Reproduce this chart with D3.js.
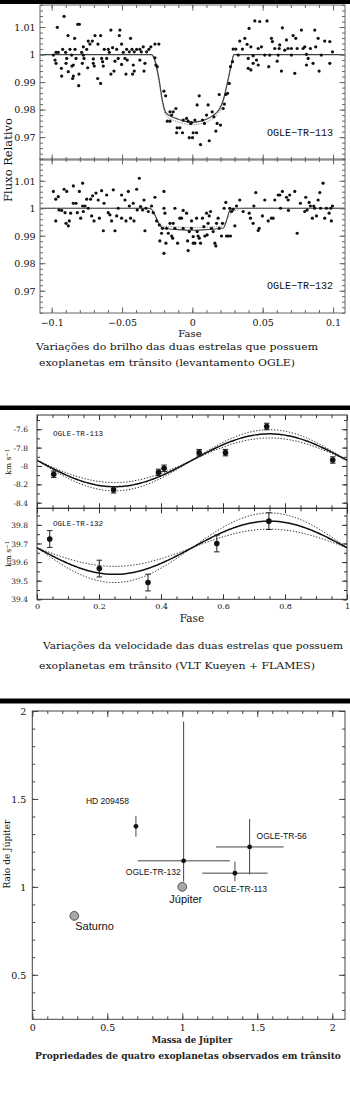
<!DOCTYPE html>
<html>
<head>
<meta charset="utf-8">
<script src="https://cdn.jsdelivr.net/npm/d3@7"></script>
<style>
  body { margin: 0; background: #fff; }
  svg { display: block; }
</style>
</head>
<body>
<svg id="chart" width="350" height="1095"></svg>
<script>
// ---------------- Light curves (phase, relative flux) ----------------
const lcPhaseTicks = [-0.1, -0.05, 0, 0.05, 0.1];
const lcPhaseLabels = ["\u22120.1", "\u22120.05", "0", "0.05", "0.1"];
const lcFluxTicks = [0.97, 0.98, 0.99, 1, 1.01];
const lcFluxLabels = ["0.97", "0.98", "0.99", "1", "1.01"];

const lc113 = [
  [-0.0912,1.0139],[-0.0960,1.0099],[-0.0884,1.0069],[-0.0815,1.0110],[-0.0803,1.0110],[-0.0837,1.0059],
  [-0.0579,1.0089],[-0.0515,1.0089],[-0.0692,1.0069],[-0.0652,1.0069],[-0.0519,1.0069],[-0.0439,1.0059],
  [-0.0740,1.0049],[-0.0711,1.0049],[-0.0728,1.0038],[-0.0671,1.0038],[-0.0503,1.0038],[-0.0266,1.0038],
  [-0.0238,1.0038],[-0.0775,1.0028],[-0.0349,1.0028],[-0.0295,1.0028],[-0.0922,1.0019],[-0.0870,1.0019],
  [-0.0834,1.0019],[-0.0751,1.0019],[-0.0626,1.0019],[-0.0598,1.0019],[-0.0567,1.0025],[-0.0538,1.0019],
  [-0.0467,1.0019],[-0.0429,1.0019],[-0.0396,1.0019],[-0.0373,1.0019],[-0.0309,1.0019],[-0.0969,1.0008],
  [-0.0953,1.0008],[-0.0901,1.0008],[-0.0787,1.0008],[-0.0590,1.0008],[-0.0491,1.0008],[-0.0448,1.0010],
  [-0.0413,1.0010],[-0.0363,1.0010],[-0.0325,1.0010],[-0.0988,0.9998],[-0.0858,0.9998],[-0.0775,0.9998],
  [-0.0976,0.9980],[-0.0893,0.9986],[-0.0827,0.9986],[-0.0770,0.9986],[-0.0704,0.9984],[-0.0645,0.9986],
  [-0.0609,0.9986],[-0.0527,0.9986],[-0.0479,0.9986],[-0.0463,0.9980],[-0.0266,0.9988],[-0.0969,0.9968],
  [-0.0898,0.9968],[-0.0846,0.9962],[-0.0782,0.9968],[-0.0704,0.9968],[-0.0638,0.9974],[-0.0550,0.9976],
  [-0.0373,0.9980],[-0.0337,0.9968],[-0.0259,0.9962],[-0.0931,0.9950],[-0.0856,0.9958],[-0.0744,0.9952],
  [-0.0697,0.9958],[-0.0633,0.9958],[-0.0503,0.9964],[-0.0420,0.9962],[-0.0250,0.9956],[-0.0882,0.9938],
  [-0.0557,0.9940],[-0.0413,0.9940],[-0.0344,0.9940],[-0.0929,0.9922],[-0.0846,0.9922],[-0.0806,0.9929],
  [-0.0579,0.9929],[-0.0472,0.9929],[-0.0425,0.9929],[-0.0851,0.9913],[-0.0673,0.9913],[-0.0652,0.9895],
  [-0.0808,0.9887],
  [-0.0202,0.9867],[-0.0190,0.9850],[-0.0159,0.9792],[-0.0136,0.9792],[-0.0117,0.9804],[-0.0178,0.9758],
  [-0.0159,0.9758],[-0.0147,0.9780],[-0.0108,0.9734],[-0.0089,0.9734],[-0.0112,0.9716],[-0.0070,0.9716],
  [-0.0065,0.9762],[-0.0041,0.9768],[-0.0030,0.9758],[-0.0011,0.9750],[-0.0022,0.9698],[0.0001,0.9698],
  [-0.0006,0.9753],[0.0018,0.9762],[0.0006,0.9716],[0.0030,0.9716],[0.0058,0.9673],[0.0049,0.9850],
  [0.0072,0.9762],[0.0086,0.9750],[0.0034,0.9817],[0.0112,0.9817],[0.0101,0.9780],[0.0120,0.9687],
  [0.0141,0.9792],[0.0153,0.9774],[0.0167,0.9722],[0.0176,0.9750],[0.0200,0.9744],[0.0191,0.9855],
  [0.0219,0.9804],[0.0228,0.9820],[0.0238,0.9855],[0.0250,0.9859],[0.0262,0.9895],[0.0271,0.9956],
  [0.0285,0.9974],
  [0.0290,1.0020],[0.0309,1.0020],[0.0326,0.9998],[0.0337,1.0049],[0.0356,1.0020],[0.0373,1.0059],
  [0.0389,1.0037],[0.0403,1.0095],[0.0416,1.0028],[0.0397,0.9950],[0.0416,0.9944],[0.0444,1.0122],
  [0.0479,1.0120],[0.0531,1.0122],[0.0468,1.0022],[0.0491,1.0028],[0.0397,0.9986],[0.0432,0.9968],
  [0.0456,0.9980],[0.0468,0.9962],[0.0515,0.9998],[0.0550,0.9998],[0.0543,0.9956],[0.0562,1.0059],
  [0.0569,1.0047],[0.0586,1.0022],[0.0617,1.0022],[0.0603,0.9976],[0.0621,1.0035],[0.0640,1.0097],
  [0.0633,0.9940],[0.0657,1.0016],[0.0669,1.0053],[0.0680,1.0022],[0.0704,1.0022],[0.0716,1.0069],
  [0.0735,1.0059],[0.0745,1.0022],[0.0728,0.9932],[0.0775,1.0089],[0.0787,1.0022],[0.0799,1.0028],
  [0.0811,0.9962],[0.0823,0.9986],[0.0839,1.0022],[0.0858,0.9968],[0.0870,1.0089],[0.0877,1.0028],
  [0.0894,1.0059],[0.0901,0.9940],[0.0917,0.9998],[0.0941,1.0049],[0.0977,1.0047],[0.0977,0.9968],
  [0.0996,1.0010],[0.0704,0.9998],[0.0811,1.0001],[0.0610,0.9998],[0.0432,0.9996]
];

const lc132 = [
  [-0.0988,1.0061],[-0.0971,1.0033],[-0.0971,0.9954],[-0.0953,1.0042],[-0.0948,0.9994],[-0.0929,0.9992],
  [-0.0912,1.0069],[-0.0893,1.0061],[-0.0905,0.9984],[-0.0898,0.9945],[-0.0882,0.9936],[-0.0875,0.9954],
  [-0.0865,0.9982],[-0.0846,1.0081],[-0.0846,1.0018],[-0.0827,1.0018],[-0.0818,0.9984],[-0.0803,1.0061],
  [-0.0794,0.9964],[-0.0780,1.0091],[-0.0780,1.0008],[-0.0763,1.0008],[-0.0775,0.9988],[-0.0751,1.0033],
  [-0.0740,1.0000],[-0.0723,1.0033],[-0.0709,1.0045],[-0.0716,0.9972],[-0.0699,0.9954],[-0.0685,1.0055],
  [-0.0669,1.0030],[-0.0661,0.9964],[-0.0645,1.0064],[-0.0633,0.9918],[-0.0628,1.0018],[-0.0609,1.0048],
  [-0.0598,0.9984],[-0.0586,0.9976],[-0.0574,0.9954],[-0.0562,1.0067],[-0.0550,0.9918],[-0.0538,0.9972],
  [-0.0527,1.0000],[-0.0503,1.0048],[-0.0503,0.9964],[-0.0479,1.0030],[-0.0472,0.9954],[-0.0455,1.0061],
  [-0.0448,1.0008],[-0.0439,0.9964],[-0.0420,1.0018],[-0.0415,0.9954],[-0.0396,1.0069],[-0.0392,0.9994],
  [-0.0377,1.0109],[-0.0368,1.0006],[-0.0354,0.9994],[-0.0344,1.0030],[-0.0337,0.9918],[-0.0330,1.0000],
  [-0.0313,0.9988],[-0.0290,1.0008],[-0.0278,0.9984],[-0.0266,1.0040],[-0.0254,0.9954],[-0.0235,0.9939],
  [-0.0231,0.9881],[-0.0219,0.9909],[-0.0202,1.0061],[-0.0202,1.0000],[-0.0212,0.9927],[-0.0195,0.9982],
  [-0.0202,0.9836],[-0.0188,0.9873],[-0.0171,0.9909],[-0.0159,0.9945],[-0.0147,0.9899],[-0.0140,0.9891],
  [-0.0136,0.9945],[-0.0124,1.0000],[-0.0124,0.9927],[-0.0105,0.9873],[-0.0089,0.9964],[-0.0077,0.9964],
  [-0.0065,0.9992],[-0.0065,0.9927],[-0.0041,0.9982],[-0.0034,0.9881],[-0.0030,0.9846],[-0.0022,0.9915],
  [-0.0006,0.9927],[0.0006,0.9873],[-0.0183,0.9927],
  [-0.0006,0.9954],[0.0006,0.9897],[0.0018,0.9873],[0.0030,0.9964],[0.0034,0.9915],[0.0041,0.9899],
  [0.0049,0.9891],[0.0058,0.9873],[0.0072,0.9964],[0.0082,0.9933],[0.0089,0.9899],[0.0101,0.9982],
  [0.0105,0.9903],[0.0112,0.9945],[0.0120,0.9972],[0.0129,0.9988],[0.0136,0.9927],[0.0148,0.9915],
  [0.0160,0.9873],[0.0167,0.9863],[0.0172,0.9945],[0.0183,0.9964],[0.0191,0.9927],[0.0207,0.9899],
  [0.0214,0.9945],[0.0226,1.0000],[0.0238,1.0021],[0.0243,0.9899],[0.0255,0.9899],[0.0271,0.9899],
  [0.0266,1.0000],[0.0278,0.9988],[0.0290,0.9996],[0.0302,0.9936],[0.0314,1.0008],[0.0337,1.0030],
  [0.0361,0.9988],[0.0404,0.9982],[0.0413,0.9964],[0.0432,0.9945],[0.0437,1.0008],[0.0451,1.0057],
  [0.0468,0.9919],[0.0475,0.9927],[0.0498,0.9972],[0.0515,1.0030],[0.0539,0.9954],[0.0562,0.9964],
  [0.0574,0.9964],[0.0586,1.0030],[0.0610,1.0048],[0.0622,1.0048],[0.0627,1.0000],[0.0640,1.0061],
  [0.0669,1.0040],[0.0681,1.0030],[0.0683,0.9992],[0.0692,1.0048],[0.0728,1.0061],[0.0745,0.9909],
  [0.0768,1.0018],[0.0799,0.9988],[0.0806,1.0040],[0.0816,0.9994],[0.0830,1.0021],[0.0839,1.0008],
  [0.0853,0.9964],[0.0863,1.0008],[0.0870,1.0000],[0.0882,0.9972],[0.0894,1.0030],[0.0906,1.0057],
  [0.0911,1.0000],[0.0929,1.0091],[0.0941,0.9964],[0.0953,1.0000],[0.0972,0.9982],[0.0988,0.9954],
  [0.0996,1.0008],[0.0984,1.0000]
];

// transit model profiles (phase, flux)
const lc113Model = [[-0.108,1],[-0.029,1],[-0.027,0.9985],[-0.024,0.992],[-0.021,0.9825],[-0.019,0.979],
  [-0.015,0.9775],[-0.01,0.9765],[-0.005,0.9757],[0,0.9754],[0.005,0.9757],[0.01,0.9765],[0.015,0.978],
  [0.019,0.980],[0.022,0.9835],[0.025,0.990],[0.028,0.997],[0.0295,1],[0.108,1]];
const lc113ModelAlt = [[-0.108,1],[-0.029,1],[-0.027,0.998],[-0.024,0.991],[-0.021,0.9815],[-0.019,0.978],
  [-0.015,0.9765],[-0.01,0.9755],[-0.005,0.9748],[0,0.9745],[0.005,0.9748],[0.01,0.9755],[0.015,0.977],
  [0.019,0.979],[0.022,0.983],[0.025,0.990],[0.028,0.997],[0.0295,1],[0.108,1]];
const lc132Model = [[-0.108,1],[-0.030,1],[-0.027,0.998],[-0.024,0.9945],[-0.021,0.9928],[-0.01,0.9922],
  [0,0.992],[0.01,0.9922],[0.022,0.9928],[0.024,0.995],[0.026,0.9985],[0.028,1],[0.108,1]];
const lc132ModelAlt = [[-0.108,1],[-0.031,1],[-0.025,0.996],[-0.021,0.9935],[0,0.993],[0.021,0.9935],
  [0.026,0.997],[0.029,0.9988],[0.033,0.9995],[0.036,1],[0.108,1]];

// ---------------- Radial velocities ----------------
const rvPhaseTicks = [0, 0.2, 0.4, 0.6, 0.8, 1];
const rv113Ticks = [-8.4, -8.2, -8, -7.8, -7.6];
const rv132Ticks = [39.4, 39.5, 39.6, 39.7, 39.8];

const rv113Phase = [0.054, 0.247, 0.392, 0.41, 0.523, 0.608, 0.741, 0.954];
const rv113Vel   = [-8.09, -8.26, -8.07, -8.025, -7.855, -7.855, -7.57, -7.935];
const rv113Err   = [0.035, 0.035, 0.035, 0.035, 0.035, 0.035, 0.035, 0.035];
const rv132Phase = [0.041, 0.201, 0.358, 0.58, 0.748];
const rv132Vel   = [39.724, 39.565, 39.49, 39.70, 39.82];
const rv132Err   = [0.045, 0.045, 0.045, 0.045, 0.045];

// circular-orbit fits: systemic velocity and semi-amplitudes (fit, lower, upper)
const rv113Gamma = -7.938;
const rv113K = [0.288, 0.243, 0.333];
const rv132Gamma = 39.677;
const rv132K = [0.143, 0.10, 0.187];

// ---------------- Mass-radius ----------------
const massTicks = [0, 0.5, 1, 1.5, 2];
const radiusTicks = [0.5, 1, 1.5, 2];
const planetNames  = ["HD 209458", "OGLE-TR-56", "OGLE-TR-113", "OGLE-TR-132"];
const planetMass   = [0.691, 1.449, 1.351, 1.009];
const planetRadius = [1.344, 1.227, 1.078, 1.148];
const massMin   = [0.691, 1.225, 1.133, 0.703];
const massMax   = [0.691, 1.676, 1.569, 1.318];
const radiusMin = [1.285, 1.071, 1.032, 1.03];
const radiusMax = [1.403, 1.386, 1.143, 1.94];
const solarNames  = ["Júpiter", "Saturno"];
const solarMass   = [1.0, 0.28];
const solarRadius = [1.0, 0.835];

// ---------------- Drawing ----------------
const svg = d3.select("#chart");
const serif = "'DejaVu Serif', serif";

// separator bars
[[0, 4], [405.5, 4.5], [698.5, 5]].forEach(([y, h]) =>
  svg.append("rect").attr("x", 0).attr("y", y).attr("width", 350).attr("height", h).attr("fill", "#000"));

function stepValues(a, b, s) {
  const n = Math.round((b - a) / s);
  return d3.range(n + 1).map(i => +(a + i * s).toFixed(6));
}

// frame with inward ticks on all four sides
function frame(g, x, y, o) {
  const [x0, x1] = x.range();
  const [yb, yt] = y.range();
  g.append("rect").attr("x", x0).attr("y", yt).attr("width", x1 - x0).attr("height", yb - yt)
    .attr("fill", "none").attr("stroke", o.color).attr("stroke-width", o.sw);
  const sides = [
    [d3.axisBottom, x, `translate(0,${yb})`, o.xMajor, o.xMinor],
    [d3.axisTop, x, `translate(0,${yt})`, o.xMajor, o.xMinor],
    [d3.axisLeft, y, `translate(${x0},0)`, o.yMajor, o.yMinor],
    [d3.axisRight, y, `translate(${x1},0)`, o.yMajor, o.yMinor]
  ];
  sides.forEach(([ax, sc, tr, maj, min]) => {
    [[maj, o.majLen], [min, o.minLen]].forEach(([vals, len]) => {
      g.append("g").attr("transform", tr)
        .call(ax(sc).tickValues(vals).tickSize(-len).tickFormat(""))
        .call(s => s.select(".domain").remove())
        .selectAll("line").attr("stroke", o.color).attr("stroke-width", o.sw);
    });
  });
}

function bottomLabels(g, x, yPos, vals, labels, off, size) {
  const a = g.append("g").attr("transform", `translate(0,${yPos})`)
    .call(d3.axisBottom(x).tickValues(vals).tickSize(0).tickFormat((d, i) => labels[i]))
    .call(s => s.select(".domain").remove());
  a.attr("font-family", serif).attr("font-size", size);
  a.selectAll("text").attr("y", off).attr("dy", "0.35em").attr("fill", "#111");
}
function leftLabels(g, y, xPos, vals, labels, off, size) {
  const a = g.append("g").attr("transform", `translate(${xPos},0)`)
    .call(d3.axisLeft(y).tickValues(vals).tickSize(0).tickFormat((d, i) => labels[i]))
    .call(s => s.select(".domain").remove());
  a.attr("font-family", serif).attr("font-size", size);
  a.selectAll("text").attr("x", -off).attr("dy", "0.35em").attr("fill", "#111");
}

// ===== Panel 1: light curves =====
const p1 = svg.append("g");
const xLc = d3.scaleLinear().domain([-0.1083, 0.1085]).range([40, 345]);
const yLcTop = d3.scaleLinear().domain([0.9617, 1.018]).range([160, 5]);
const yLcBot = d3.scaleLinear().domain([0.9619, 1.0179]).range([313, 159]);
const lcFrame = {
  color: "#666", sw: 1, majLen: 5.5, minLen: 3,
  xMajor: lcPhaseTicks, xMinor: stepValues(-0.1, 0.1, 0.01),
  yMajor: lcFluxTicks, yMinor: stepValues(0.962, 1.018, 0.002)
};

[[yLcTop, lc113, lc113Model, lc113ModelAlt, "OGLE\u2212TR\u2212113", 0.9718],
 [yLcBot, lc132, lc132Model, lc132ModelAlt, "OGLE\u2212TR\u2212132", 0.9718]].forEach(([y, pts, model, alt, name, ly]) => {
  const g = p1.append("g");
  const line = d3.line().x(d => xLc(d[0])).y(d => y(d[1])).curve(d3.curveMonotoneX);
  g.append("path").attr("d", line(alt)).attr("fill", "none").attr("stroke", "#777")
    .attr("stroke-width", 0.9).attr("stroke-dasharray", "1.2,1.2");
  g.append("path").attr("d", line(model)).attr("fill", "none").attr("stroke", "#444").attr("stroke-width", 1.2);
  g.selectAll("circle").data(pts).join("circle")
    .attr("cx", d => xLc(d[0])).attr("cy", d => y(d[1])).attr("r", 1.6).attr("fill", "#111");
  frame(g, xLc, y, lcFrame);
  leftLabels(g, y, 40, lcFluxTicks, lcFluxLabels, 4.5, 9.5);
  g.append("text").attr("x", 333).attr("y", y(ly)).attr("dy", "0.35em").attr("text-anchor", "end")
    .attr("font-family", "'Liberation Mono', monospace").attr("font-size", 10).attr("fill", "#111").text(name);
});
bottomLabels(p1, xLc, 313, lcPhaseTicks, lcPhaseLabels, 9.7, 9.5);
p1.append("text").attr("x", 190).attr("y", 336.5).attr("text-anchor", "middle")
  .attr("font-family", serif).attr("font-size", 10).attr("fill", "#111").text("Fase");
p1.append("text").attr("transform", "translate(8,160) rotate(-90)").attr("dy", "0.35em")
  .attr("text-anchor", "middle").attr("font-family", serif).attr("font-size", 11.5).attr("fill", "#111")
  .text("Fluxo Relativo");
p1.append("text").attr("x", 36).attr("y", 349.5).attr("font-family", serif).attr("font-size", 10)
  .attr("textLength", 282).attr("lengthAdjust", "spacingAndGlyphs").attr("fill", "#111")
  .text("Variações do brilho das duas estrelas que possuem");
p1.append("text").attr("x", 39).attr("y", 366).attr("font-family", serif).attr("font-size", 10)
  .attr("textLength", 256).attr("lengthAdjust", "spacingAndGlyphs").attr("fill", "#111")
  .text("exoplanetas em trânsito (levantamento OGLE)");

// ===== Panel 2: radial velocities =====
const p2 = svg.append("g");
const xRv = d3.scaleLinear().domain([0, 1]).range([37, 347]);
const yRvTop = d3.scaleLinear().domain([-8.461, -7.445]).range([508.3, 415]);
const yRvBot = d3.scaleLinear().domain([39.4, 39.889]).range([599.3, 508.3]);
const phaseGrid = d3.range(0, 201).map(i => i / 200);

[[yRvTop, rv113Phase, rv113Vel, rv113Err, rv113Gamma, rv113K, "OGLE-TR-113",
  rv113Ticks, stepValues(-8.4, -7.5, 0.1), 433],
 [yRvBot, rv132Phase, rv132Vel, rv132Err, rv132Gamma, rv132K, "OGLE-TR-132",
  rv132Ticks, stepValues(39.4, 39.85, 0.05), 523]].forEach(
  ([y, ph, v, e, gamma, Ks, name, yt, yMinor, ly]) => {
  const g = p2.append("g");
  const line = d3.line().x(d => xRv(d[0])).y(d => y(d[1]));
  Ks.forEach((K, i) => {
    const curve = phaseGrid.map(p => [p, gamma - K * Math.sin(2 * Math.PI * p)]);
    g.append("path").attr("d", line(curve)).attr("fill", "none").attr("stroke", "#111")
      .attr("stroke-width", i === 0 ? 1.5 : 0.9).attr("stroke-dasharray", i === 0 ? null : "1.3,1.7");
  });
  const pts = ph.map((p, i) => ({ p, v: v[i], e: e[i] }));
  const eb = g.append("g").attr("stroke", "#222").attr("stroke-width", 1);
  pts.forEach(d => {
    eb.append("line").attr("x1", xRv(d.p)).attr("x2", xRv(d.p)).attr("y1", y(d.v - d.e)).attr("y2", y(d.v + d.e));
    [d.v - d.e, d.v + d.e].forEach(val =>
      eb.append("line").attr("x1", xRv(d.p) - 2.8).attr("x2", xRv(d.p) + 2.8).attr("y1", y(val)).attr("y2", y(val)));
  });
  g.selectAll("circle").data(pts).join("circle")
    .attr("cx", d => xRv(d.p)).attr("cy", d => y(d.v)).attr("r", 2.8).attr("fill", "#111");
  frame(g, xRv, y, {
    color: "#333", sw: 1, majLen: 5, minLen: 3,
    xMajor: rvPhaseTicks, xMinor: stepValues(0, 1, 0.05), yMajor: yt, yMinor
  });
  leftLabels(g, y, 37, yt, yt.map(String), 9, 7.5);
  g.append("text").attr("x", 53).attr("y", ly).attr("dy", "0.35em")
    .attr("font-family", "'Liberation Mono', monospace").attr("font-size", 7.6).attr("fill", "#111").text(name);
  const [yb, ytp] = y.range();
  const kt = g.append("text").attr("transform", `translate(8,${(yb + ytp) / 2}) rotate(-90)`).attr("dy", "0.35em")
    .attr("text-anchor", "middle").attr("font-family", serif).attr("font-size", 7.5).attr("fill", "#111");
  kt.append("tspan").text("km s");
  kt.append("tspan").attr("dy", "-0.35em").attr("font-size", 5.5).text("\u22121");
});
bottomLabels(p2, xRv, 599.3, rvPhaseTicks, ["0", "0.2", "0.4", "0.6", "0.8", "1"], 7.4, 8);
p2.append("text").attr("x", 192).attr("y", 622).attr("text-anchor", "middle")
  .attr("font-family", serif).attr("font-size", 10.5).attr("fill", "#111").text("Fase");
p2.append("text").attr("x", 43).attr("y", 648.5).attr("font-family", serif).attr("font-size", 10)
  .attr("textLength", 300).attr("lengthAdjust", "spacingAndGlyphs").attr("fill", "#111")
  .text("Variações da velocidade das duas estrelas que possuem");
p2.append("text").attr("x", 39).attr("y", 668.5).attr("font-family", serif).attr("font-size", 10)
  .attr("textLength", 276).attr("lengthAdjust", "spacingAndGlyphs").attr("fill", "#111")
  .text("exoplanetas em trânsito (VLT Kueyen + FLAMES)");

// ===== Panel 3: mass-radius diagram =====
const p3 = svg.append("g");
const xM = d3.scaleLinear().domain([0, 2.085]).range([32.3, 345]);
const yR = d3.scaleLinear().domain([0.247, 2]).range([1019.3, 711]);
frame(p3, xM, yR, {
  color: "#444", sw: 1, majLen: 6, minLen: 3,
  xMajor: massTicks, xMinor: stepValues(0, 2, 0.1),
  yMajor: radiusTicks, yMinor: stepValues(0.3, 2, 0.1)
});
bottomLabels(p3, xM, 1019.3, massTicks, massTicks.map(String), 8.7, 9.5);
leftLabels(p3, yR, 32.3, radiusTicks, radiusTicks.map(String), 6, 9.5);

const planets = planetNames.map((n, i) => ({
  n, m: planetMass[i], r: planetRadius[i],
  m0: massMin[i], m1: massMax[i], r0: radiusMin[i], r1: radiusMax[i]
}));
const bars = p3.append("g").attr("stroke", "#444").attr("stroke-width", 1);
planets.forEach(d => {
  bars.append("line").attr("x1", xM(d.m)).attr("x2", xM(d.m)).attr("y1", yR(d.r0)).attr("y2", yR(d.r1));
  if (d.m1 > d.m0)
    bars.append("line").attr("x1", xM(d.m0)).attr("x2", xM(d.m1)).attr("y1", yR(d.r)).attr("y2", yR(d.r));
});
p3.append("g").selectAll("circle").data(planets).join("circle")
  .attr("cx", d => xM(d.m)).attr("cy", d => yR(d.r)).attr("r", 2.4).attr("fill", "#111");

const planetLabelPos = {
  "HD 209458": [-50, -22, "start"],
  "OGLE-TR-56": [7, -8, "start"],
  "OGLE-TR-113": [-22, 19, "start"],
  "OGLE-TR-132": [-3, 14, "end"]
};
planets.forEach(d => {
  const [dx, dy, anchor] = planetLabelPos[d.n];
  p3.append("text").attr("x", xM(d.m) + dx).attr("y", yR(d.r) + dy).attr("text-anchor", anchor)
    .attr("font-family", "'Liberation Sans', Arial, sans-serif").attr("font-size", 8.5).attr("fill", "#111").text(d.n);
});

const solar = solarNames.map((n, i) => ({ n, m: solarMass[i], r: solarRadius[i] }));
p3.append("g").selectAll("circle").data(solar).join("circle")
  .attr("cx", d => xM(d.m)).attr("cy", d => yR(d.r)).attr("r", 4.4)
  .attr("fill", "#a9a9a9").attr("stroke", "#333").attr("stroke-width", 0.8);
const solarLabelPos = { "Júpiter": [-13, 16], "Saturno": [1, 14] };
solar.forEach(d => {
  const [dx, dy] = solarLabelPos[d.n];
  p3.append("text").attr("x", xM(d.m) + dx).attr("y", yR(d.r) + dy)
    .attr("font-family", "'Liberation Sans', Arial, sans-serif").attr("font-size", 11).attr("fill", "#111").text(d.n);
});

p3.append("text").attr("transform", "translate(7,854) rotate(-90)").attr("dy", "0.35em")
  .attr("text-anchor", "middle").attr("font-family", serif).attr("font-size", 9).attr("fill", "#111")
  .text("Raio de Júpiter");
p3.append("text").attr("x", 192).attr("y", 1042.5).attr("text-anchor", "middle")
  .attr("font-family", serif).attr("font-size", 8.5).attr("font-weight", "bold").attr("fill", "#222")
  .text("Massa de Júpiter");
p3.append("text").attr("x", 188).attr("y", 1058.5).attr("text-anchor", "middle")
  .attr("font-family", serif).attr("font-size", 9.1).attr("font-weight", "bold").attr("fill", "#222")
  .text("Propriedades de quatro exoplanetas observados em trânsito");
</script>
</body>
</html>
